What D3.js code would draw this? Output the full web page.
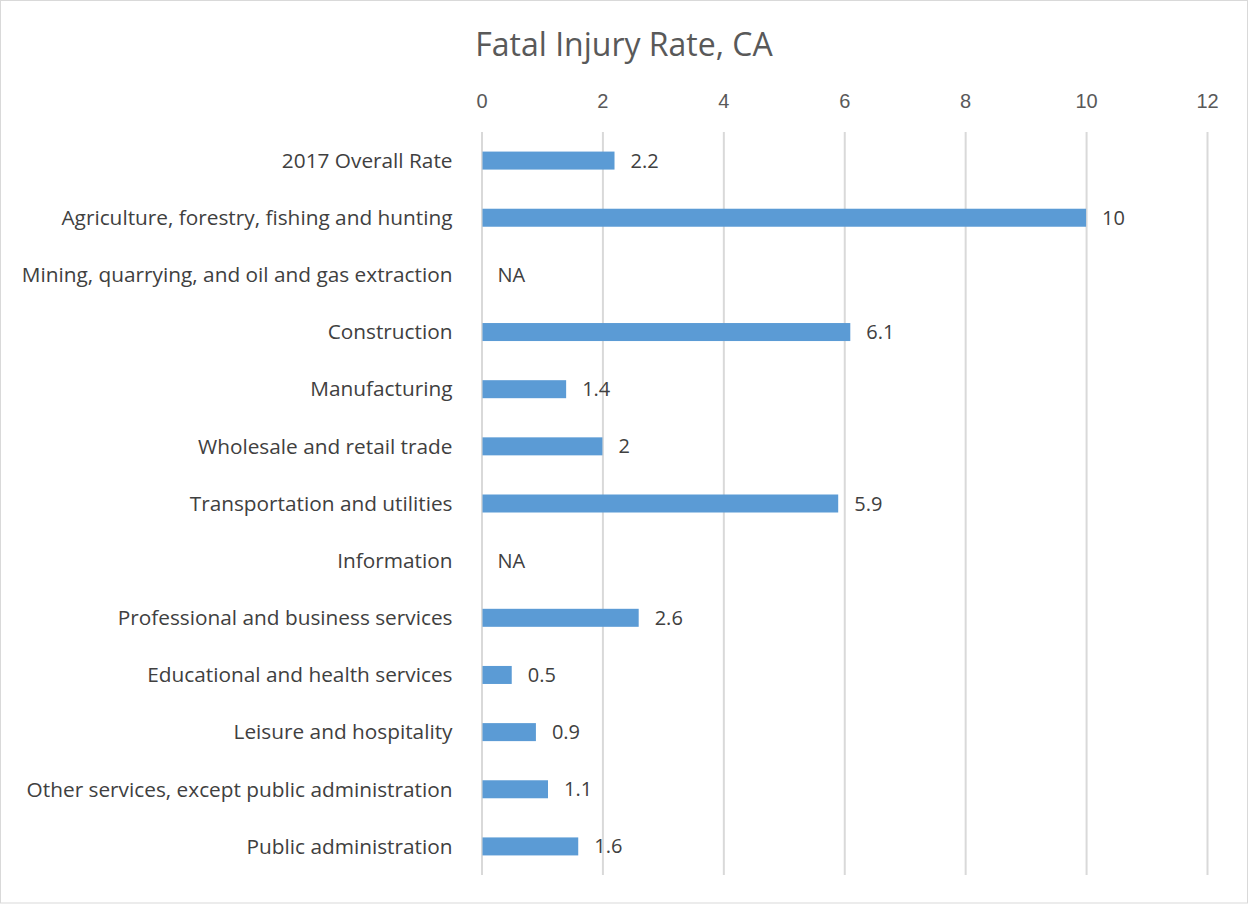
<!DOCTYPE html>
<html>
<head>
<meta charset="utf-8">
<script src="https://cdn.jsdelivr.net/npm/d3@7"></script>
<style>
  body { margin: 0; background: #fff; }
  svg { display: block; font-family: 'Open Sans', sans-serif; }
  .grid line { stroke: #d9d9d9; stroke-width: 2; }
  .grid path { display: none; }
  .axis--x text { fill: #595959; font-size: 20px; }
  .axis--x path, .axis--x line { display: none; }
  .cat { fill: #404040; font-size: 20.8px; }
  .val { fill: #404040; font-size: 20px; }
</style>
</head>
<body>
<div id="svg_container"></div>
<script>
// categories and values (null = NA)
var categories = [
  '2017 Overall Rate',
  'Agriculture, forestry, fishing and hunting',
  'Mining, quarrying, and oil and gas extraction',
  'Construction',
  'Manufacturing',
  'Wholesale and retail trade',
  'Transportation and utilities',
  'Information',
  'Professional and business services',
  'Educational and health services',
  'Leisure and hospitality',
  'Other services, except public administration',
  'Public administration'
]
var rates = [2.2, 10, null, 6.1, 1.4, 2, 5.9, null, 2.6, 0.5, 0.9, 1.1, 1.6]
var xTicks = [0, 2, 4, 6, 8, 10, 12]

var width = 1249, height = 904
var margin = {top: 132, right: 42, bottom: 29, left: 481.5}

var svg = d3.select('#svg_container')
  .append('svg')
    .attr('width', width)
    .attr('height', height)

// outer border
svg.append('rect')
  .attr('x', 0.5).attr('y', 0.5)
  .attr('width', width - 2).attr('height', height - 1.5)
  .attr('fill', '#fff')
  .attr('stroke', '#d9d9d9')

svg.append('text')
  .attr('x', 624)
  .attr('y', 56)
  .attr('text-anchor', 'middle')
  .attr('fill', '#595959')
  .style('font-size', '32px')
  .text('Fatal Injury Rate, CA')

var x = d3.scaleLinear().domain([0, 12]).range([margin.left, width - margin.right])
var y = d3.scaleBand().domain(categories).range([margin.top, height - margin.bottom]).paddingInner(0.685).paddingOuter(0.3425)

var data = categories.map(function(c, i) { return {cat: c, rate: rates[i]} })

svg.append('g')
    .attr('class', 'grid')
    .attr('transform', 'translate(0,' + margin.top + ')')
    .call(d3.axisBottom(x).tickValues(xTicks).tickSize(height - margin.bottom - margin.top).tickFormat(''))

svg.append('g')
    .attr('class', 'axis axis--x')
    .attr('transform', 'translate(0,' + (margin.top - 24) + ')')
    .call(d3.axisTop(x).tickValues(xTicks).tickSize(0).tickPadding(0))

svg.selectAll('.cat')
  .data(data)
  .enter().append('text')
    .attr('class', 'cat')
    .attr('x', margin.left - 29)
    .attr('y', function(d) { return y(d.cat) + y.bandwidth() / 2 })
    .attr('dy', '0.35em')
    .attr('text-anchor', 'end')
    .text(function(d) { return d.cat })

svg.selectAll('.bar')
  .data(data.filter(function(d) { return d.rate != null }))
  .enter().append('rect')
    .attr('class', 'bar')
    .attr('x', x(0) + 1)
    .attr('y', function(d) { return y(d.cat) })
    .attr('width', function(d) { return x(d.rate) - x(0) - 1 })
    .attr('height', y.bandwidth())
    .attr('fill', '#5b9bd5')

svg.selectAll('.val')
  .data(data)
  .enter().append('text')
    .attr('class', 'val')
    .attr('x', function(d) { return x(d.rate == null ? 0 : d.rate) + 16 })
    .attr('y', function(d) { return y(d.cat) + y.bandwidth() / 2 })
    .attr('dy', '0.35em')
    .text(function(d) { return d.rate == null ? 'NA' : d.rate })
</script>
</body>
</html>
